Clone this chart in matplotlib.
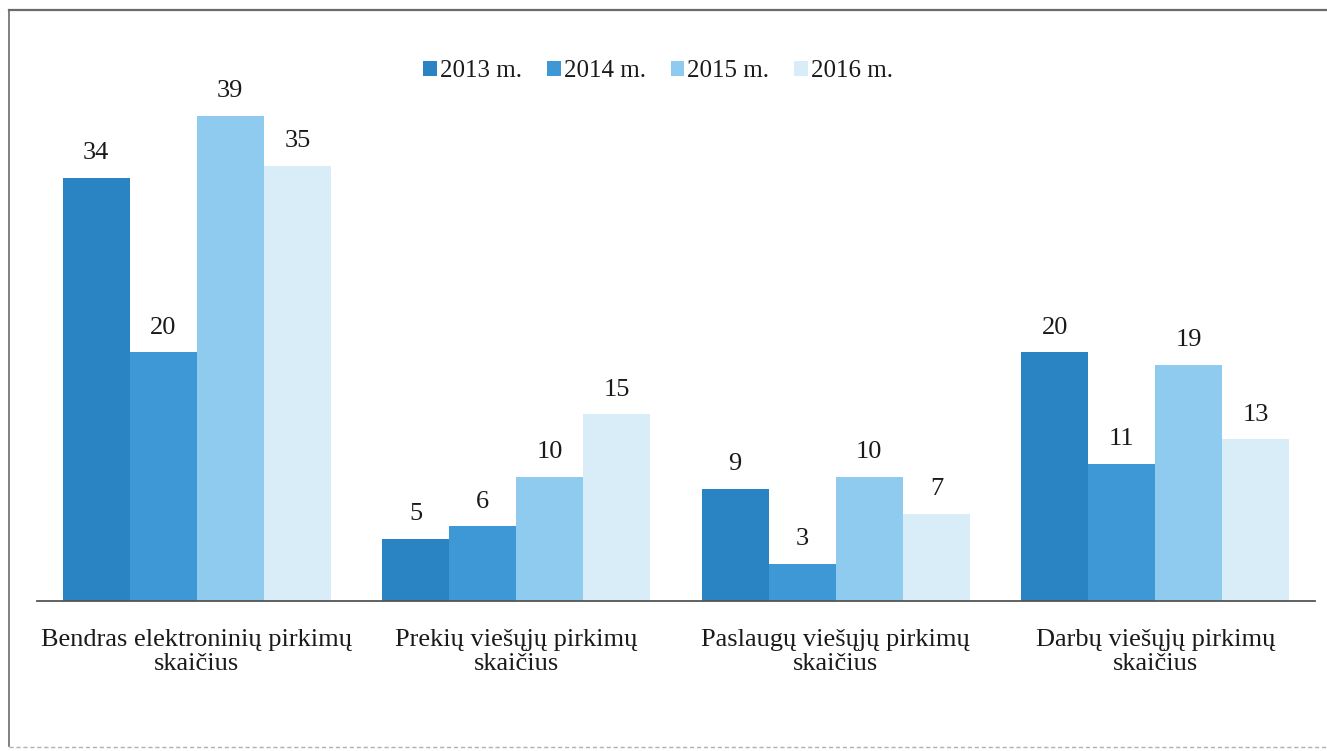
import matplotlib
matplotlib.use("Agg")
import matplotlib.pyplot as plt
import numpy as np
from matplotlib.lines import Line2D

categories = [
    "Bendras elektroninių pirkimų\nskaičius",
    "Prekių viešųjų pirkimų\nskaičius",
    "Paslaugų viešųjų pirkimų\nskaičius",
    "Darbų viešųjų pirkimų\nskaičius",
]
years = ["2013 m.", "2014 m.", "2015 m.", "2016 m."]
values_2013 = [34, 5, 9, 20]
values_2014 = [20, 6, 3, 11]
values_2015 = [39, 10, 10, 19]
values_2016 = [35, 15, 7, 13]

series = [values_2013, values_2014, values_2015, values_2016]
colors = ["#2a84c4", "#3e98d6", "#8fcbee", "#d9edf9"]

plt.rcParams["font.family"] = ["Liberation Serif", "DejaVu Serif"]

W, H = 1327, 751
fig = plt.figure(figsize=(W / 100, H / 100), dpi=100)
fig.patch.set_facecolor("white")

# axes placed in pixel coordinates
x0, x1 = 37, 1315
y_base, px_per_unit = 601, 12.44
ymax = 42
y_top = y_base - ymax * px_per_unit
ax = fig.add_axes([x0 / W, 1 - y_base / H, (x1 - x0) / W, (y_base - y_top) / H])

x = np.arange(len(categories))
bw = 0.21
for i, (vals, col, lab) in enumerate(zip(series, colors, years)):
    pos = x + (i - 1.5) * bw
    ax.bar(pos, vals, width=bw, color=col, label=lab, linewidth=0)
    for xp, v in zip(pos, vals):
        ax.text(xp, v + 1.1, str(v), ha="center", va="bottom",
                fontsize=19, color="#1a1a1a")

ax.set_xlim(-0.5, 3.5)
ax.set_ylim(0, ymax)
ax.set_yticks([])
ax.set_xticks(x)
ax.set_xticklabels(categories, fontsize=19, color="#1a1a1a", linespacing=1.15)
ax.tick_params(axis="x", length=0, pad=20)
for s in ["top", "right", "left"]:
    ax.spines[s].set_visible(False)
ax.spines["bottom"].set_color("#555555")
ax.spines["bottom"].set_linewidth(1.3)
ax.patch.set_alpha(0)

leg = fig.legend(loc="center", bbox_to_anchor=(658 / W, 1 - 71 / H), ncol=4,
                 frameon=False, fontsize=18, handlelength=0.55, handleheight=0.55,
                 handletextpad=0.12, columnspacing=1.0)
for t in leg.get_texts():
    t.set_color("#1a1a1a")

# outer frame lines
fig.add_artist(Line2D([9 / W, 9 / W], [1 - 10 / H, 1 - 746 / H],
                      transform=fig.transFigure, color="#6b6b6b", lw=1.2))
fig.add_artist(Line2D([9 / W, 1], [1 - 10 / H, 1 - 10 / H],
                      transform=fig.transFigure, color="#6b6b6b", lw=1.6))
fig.add_artist(Line2D([9 / W, 1], [1 - 747 / H, 1 - 747 / H],
                      transform=fig.transFigure, color="#b0b0b0", lw=1.0,
                      linestyle=(0, (3, 2))))

fig.savefig("out.png", dpi=100)
